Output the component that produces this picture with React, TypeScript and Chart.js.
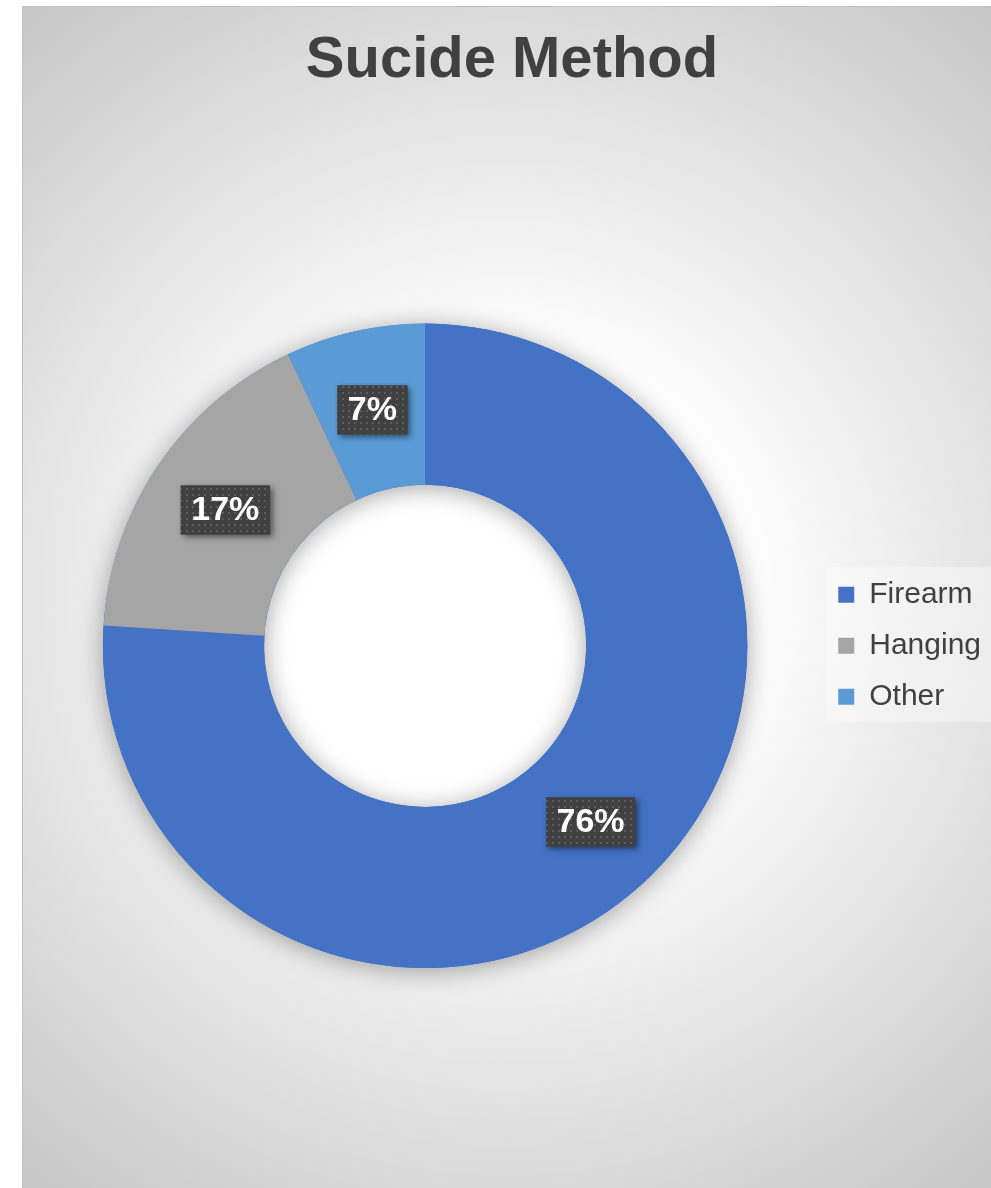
import React, { useEffect, useRef } from "react";
import { Chart, registerables } from "chart.js";

Chart.register(...registerables);

const TITLE = "Sucide Method";
const CATEGORIES = ["Firearm", "Hanging", "Other"];
const VALUES = [76, 17, 7];
const COLORS = ["#4472C4", "#A5A5A5", "#5B9BD5"];

const FONT = "'Liberation Sans', Arial, sans-serif";

function makePattern(ctx: CanvasRenderingContext2D) {
  const c = document.createElement("canvas");
  c.width = 6;
  c.height = 6;
  const p = c.getContext("2d")!;
  p.fillStyle = "#404040";
  p.fillRect(0, 0, 6, 6);
  p.fillStyle = "#5c5c5c";
  p.fillRect(2, 2, 2, 2);
  return ctx.createPattern(c, "repeat");
}

const legendBg = {
  id: "legendBg",
  beforeDraw(chart: any) {
    const lg = chart.legend;
    if (!lg || !lg.legendHitBoxes || !lg.legendHitBoxes.length) return;
    const hb = lg.legendHitBoxes;
    const ctx = chart.ctx;
    const top = hb[0].top - 13;
    const bottom = hb[hb.length - 1].top + hb[hb.length - 1].height + 10;
    const left = hb[0].left - 12;
    ctx.save();
    ctx.fillStyle = "rgba(255,255,255,0.35)";
    ctx.fillRect(left, top, chart.width - left, bottom - top);
    ctx.restore();
  },
};

const ringShadow = {
  id: "ringShadow",
  beforeDatasetsDraw(chart: any) {
    const meta = chart.getDatasetMeta(0);
    const arc = meta.data[0];
    if (!arc) return;
    const { x, y, innerRadius, outerRadius } = arc.getProps(
      ["x", "y", "innerRadius", "outerRadius"],
      true
    );
    const ctx = chart.ctx;
    ctx.save();
    ctx.beginPath();
    ctx.arc(x, y, outerRadius, 0, Math.PI * 2);
    ctx.arc(x, y, innerRadius, 0, Math.PI * 2, true);
    ctx.closePath();
    ctx.shadowColor = "rgba(0,0,0,0.35)";
    ctx.shadowBlur = 24;
    ctx.shadowOffsetY = 3;
    ctx.fillStyle = COLORS[0];
    ctx.fill();
    ctx.restore();
  },
};

const pctLabels = {
  id: "pctLabels",
  afterDatasetsDraw(chart: any) {
    const ctx: CanvasRenderingContext2D = chart.ctx;
    const meta = chart.getDatasetMeta(0);
    const data: number[] = chart.data.datasets[0].data;
    const total = data.reduce((a, b) => a + b, 0);
    const pattern = makePattern(ctx);
    ctx.save();
    ctx.font = `bold 34px ${FONT}`;
    meta.data.forEach((arc: any, i: number) => {
      const pos = arc.tooltipPosition(true);
      const text = Math.round((data[i] / total) * 100) + "%";
      const tw = ctx.measureText(text).width;
      const w = tw + 21;
      const h = 49;
      const bx = pos.x - w / 2;
      const by = pos.y - h / 2;
      ctx.save();
      ctx.shadowColor = "rgba(0,0,0,0.5)";
      ctx.shadowBlur = 6;
      ctx.shadowOffsetX = 3;
      ctx.shadowOffsetY = 3;
      ctx.fillStyle = "#404040";
      ctx.fillRect(bx, by, w, h);
      ctx.restore();
      if (pattern) {
        ctx.fillStyle = pattern;
        ctx.fillRect(bx, by, w, h);
      }
      ctx.fillStyle = "#ffffff";
      ctx.textAlign = "center";
      ctx.textBaseline = "middle";
      ctx.fillText(text, pos.x, pos.y + 1);
    });
    ctx.restore();
  },
};

export default function App() {
  const ref = useRef<HTMLCanvasElement | null>(null);

  useEffect(() => {
    if (!ref.current) return;
    const chart = new Chart(ref.current, {
      type: "doughnut",
      data: {
        labels: CATEGORIES,
        datasets: [
          {
            data: VALUES,
            backgroundColor: COLORS,
            borderWidth: 0,
          },
        ],
      },
      options: {
        responsive: false,
        animation: false,
        events: [],
        cutout: "50%",
        layout: { padding: { left: 11, right: 0, top: 0, bottom: 220 } },
        plugins: {
          title: {
            display: true,
            text: TITLE,
            color: "#404040",
            font: { family: FONT, size: 58, weight: "bold", lineHeight: 1.2 },
            padding: { top: 20, bottom: 228 },
          },
          legend: {
            position: "right",
            fullSize: false,
            labels: {
              boxWidth: 16,
              boxHeight: 16,
              padding: 21,
              color: "#404040",
              font: { family: FONT, size: 30 },
            },
          },
          tooltip: { enabled: false },
        },
      } as any,
      plugins: [legendBg, ringShadow, pctLabels],
    });
    return () => chart.destroy();
  }, []);

  return (
    <div
      style={{
        position: "absolute",
        left: 22,
        top: 6,
        width: 969,
        height: 1182,
        background:
          "radial-gradient(circle farthest-corner at 50% 50%, #ffffff 0%, #ffffff 30%, #c6c6c6 100%)",
        boxShadow: "inset 1px 1px 0 #c0c0c0",
      }}
    >
      <canvas ref={ref} width={969} height={1182} style={{ display: "block" }} />
    </div>
  );
}
